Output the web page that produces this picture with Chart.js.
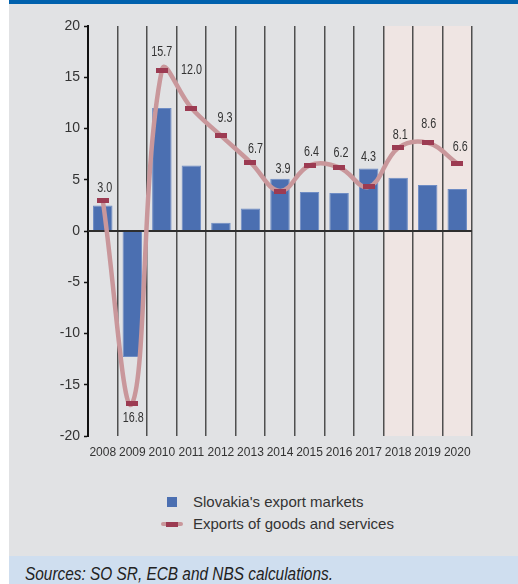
<!DOCTYPE html>
<html>
<head>
<meta charset="utf-8">
<script src="https://cdn.jsdelivr.net/npm/chart.js@4/dist/chart.umd.min.js"></script>
<style>
  html, body { margin:0; padding:0; background:#ffffff; width:518px; height:584px; overflow:hidden; }
  #topbar { position:absolute; left:9px; top:0; width:509px; height:4px; background:#0061ad; }
  #panel { position:absolute; left:9px; top:4px; width:509px; height:552px; background:#e1e2e4; }
  #chartbox { position:absolute; left:9px; top:3px; width:509px; height:463px; }
  #legend { position:absolute; left:161px; top:492px; font-family:"Liberation Sans", Arial, sans-serif; font-size:15px; color:#333; }
  .lg-row { position:absolute; left:0; white-space:nowrap; height:20px; width:300px; }
  .lg-text { position:absolute; left:32px; top:0; line-height:20px; }
  #footer { position:absolute; left:9px; top:556px; width:509px; height:28px; background:#cfdeef; }
  #source { position:absolute; left:16px; top:8px; font-family:"Liberation Sans", Arial, sans-serif; font-style:italic; font-size:18px; color:#222; white-space:nowrap; line-height:20px; transform:scaleX(0.855); transform-origin:0 0; }
</style>
</head>
<body>
<div id="topbar"></div>
<div id="panel"></div>
<div id="chartbox"><canvas id="c"></canvas></div>
<div id="legend"></div>
<div id="footer"><div id="source">Sources: SO SR, ECB and NBS calculations.</div></div>
<script>
// ---- data ----
const years = ['2008','2009','2010','2011','2012','2013','2014','2015','2016','2017','2018','2019','2020'];
const exportMarkets = [2.5, -12.3, 12.0, 6.4, 0.8, 2.2, 5.1, 3.8, 3.7, 6.1, 5.2, 4.5, 4.1];
const exportsGoodsServices = [3.0, -16.8, 15.7, 12.0, 9.3, 6.7, 3.9, 6.4, 6.2, 4.3, 8.1, 8.6, 6.6];
const yTicks = [-20, -15, -10, -5, 0, 5, 10, 15, 20];
const forecastYears = ['2018', '2019', '2020'];
const seriesNames = ["Slovakia's export markets", 'Exports of goods and services'];

// ---- styles ----
const barColor = '#4b6fb1';
const lineColor = '#c9979b';
const markerColor = '#9c3b52';
const textColor = '#333333';

// marker: short horizontal dash
const marker = document.createElement('canvas');
marker.width = 12; marker.height = 5;
(function(){ const g = marker.getContext('2d'); g.fillStyle = markerColor; g.fillRect(0,0,12,5); })();

// label nudges (dx, dy from marker centre to label centre), styling only
const labelNudge = [[2,-12],[1,15],[0,-18],[0,-38],[4,-18],[5,-13],[3,-22],[2,-13],[2,-14],[0,-30],[2,-13],[1,-19],[3,-16]];

const shadePlugin = {
  id: 'shade',
  beforeDraw(chart) {
    const { ctx, chartArea, scales } = chart;
    const x = scales.x;
    const i0 = years.indexOf(forecastYears[0]);
    const i1 = years.indexOf(forecastYears[forecastYears.length - 1]);
    const half = (x.getPixelForValue(1) - x.getPixelForValue(0)) / 2;
    const left = x.getPixelForValue(i0) - half;
    const right = x.getPixelForValue(i1) + half;
    ctx.save();
    ctx.fillStyle = '#efe5e3';
    ctx.fillRect(left, chartArea.top, right - left, chartArea.bottom - chartArea.top);
    ctx.restore();
  }
};

const zeroLinePlugin = {
  id: 'zeroLine',
  afterDatasetDraw(chart, args) {
    if (args.index !== 0) return;
    const { ctx, chartArea, scales } = chart;
    const y = scales.y.getPixelForValue(0);
    ctx.save();
    ctx.strokeStyle = '#2e2e2e';
    ctx.lineWidth = 2;
    ctx.beginPath();
    ctx.moveTo(chartArea.left, y);
    ctx.lineTo(chartArea.right, y);
    ctx.stroke();
    ctx.restore();
  }
};

const labelPlugin = {
  id: 'valueLabels',
  afterDatasetsDraw(chart) {
    const { ctx } = chart;
    const meta = chart.getDatasetMeta(1);
    const sx = 0.77;
    ctx.save();
    ctx.font = '14px "Liberation Sans", Arial, sans-serif';
    ctx.fillStyle = textColor;
    ctx.textAlign = 'center';
    ctx.textBaseline = 'middle';
    meta.data.forEach((pt, i) => {
      const v = exportsGoodsServices[i];
      const n = labelNudge[i];
      ctx.save();
      ctx.translate(pt.x + n[0], pt.y + n[1]);
      ctx.scale(sx, 1);
      ctx.fillText(Math.abs(v).toFixed(1), 0, 0);
      ctx.restore();
    });
    ctx.restore();
  }
};

const chart = new Chart(document.getElementById('c'), {
  type: 'bar',
  data: {
    labels: years,
    datasets: [
      {
        type: 'bar',
        label: seriesNames[0],
        data: exportMarkets,
        backgroundColor: barColor,
        borderColor: '#6e8cc4',
        borderWidth: 1,
        barPercentage: 0.66,
        categoryPercentage: 1.0,
        order: 1
      },
      {
        type: 'line',
        label: seriesNames[1],
        data: exportsGoodsServices,
        borderColor: lineColor,
        borderWidth: 4.5,
        tension: 0.4,
        pointStyle: marker,
        pointRadius: 6,
        pointHoverRadius: 6,
        fill: false,
        order: 0
      }
    ]
  },
  options: {
    responsive: true,
    maintainAspectRatio: false,
    animation: false,
    events: [],
    layout: { padding: { left: 0, right: 46, top: 23, bottom: 0 } },
    plugins: { legend: { display: false }, tooltip: { enabled: false } },
    scales: {
      x: {
        offset: true,
        grid: { offset: true, display: true, drawOnChartArea: true, drawTicks: false, color: '#4f4f4f', lineWidth: 1.5 },
        border: { display: false },
        ticks: {
          autoSkip: false, maxRotation: 0, minRotation: 0, padding: 9,
          color: textColor,
          font: { family: '"Liberation Sans", Arial, sans-serif', size: 12 }
        },
        afterFit(s) { s.height = 30; }
      },
      y: {
        min: -20, max: 20,
        afterBuildTicks(s) { s.ticks = yTicks.map(v => ({ value: v })); },
        grid: { drawOnChartArea: false, drawTicks: true, tickLength: 4, tickColor: '#111', tickWidth: 1.5 },
        border: { display: true, color: '#111', width: 2 },
        ticks: {
          padding: 4,
          color: textColor,
          font: { family: '"Liberation Sans", Arial, sans-serif', size: 14 }
        },
        afterFit(s) { s.width = 79; }
      }
    }
  },
  plugins: [shadePlugin, zeroLinePlugin, labelPlugin]
});

// HTML legend built from the chart's datasets
(function(){
  const lg = document.getElementById('legend');
  chart.data.datasets.forEach((ds, i) => {
    const row = document.createElement('div');
    row.className = 'lg-row';
    row.style.top = (i * 22) + 'px';
    const sym = document.createElement('div');
    sym.style.position = 'absolute';
    if (ds.type === 'bar') {
      sym.style.left = '6px'; sym.style.top = '5px';
      sym.style.width = '10px'; sym.style.height = '10px';
      sym.style.background = ds.backgroundColor;
    } else {
      sym.style.left = '0px'; sym.style.top = '8px';
      sym.style.width = '22px'; sym.style.height = '4px';
      sym.style.borderRadius = '2px';
      sym.style.background = ds.borderColor;
      const d = document.createElement('div');
      d.style.position = 'absolute'; d.style.left = '5px'; d.style.top = '-0.5px';
      d.style.width = '12px'; d.style.height = '5px'; d.style.background = markerColor;
      sym.appendChild(d);
    }
    const t = document.createElement('div');
    t.className = 'lg-text';
    t.textContent = ds.label;
    row.appendChild(sym); row.appendChild(t);
    lg.appendChild(row);
  });
})();
</script>
</body>
</html>
